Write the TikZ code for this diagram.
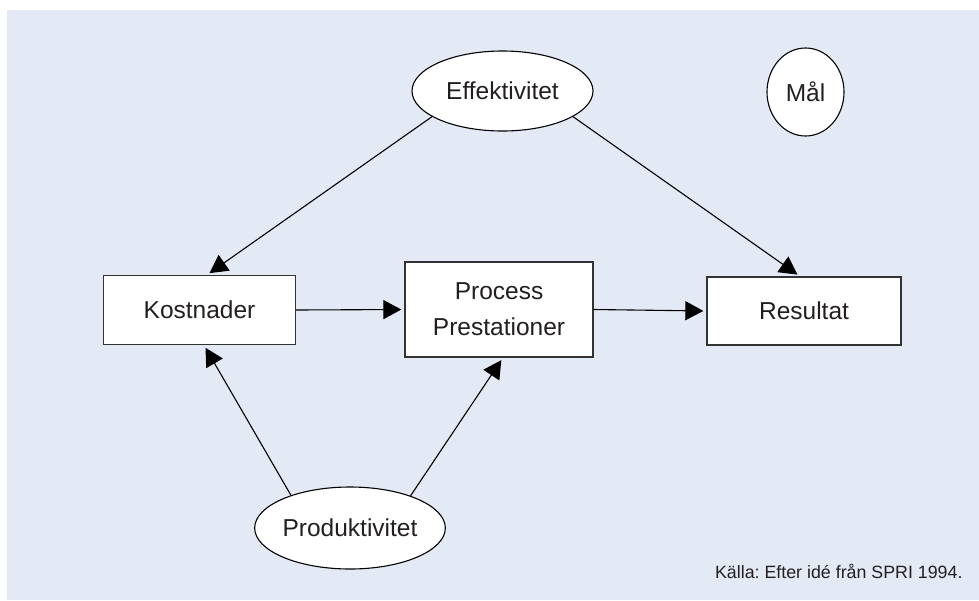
\documentclass[tikz,border=0pt]{standalone}
\usepackage{fontspec}
\setmainfont{Liberation Sans}
\usetikzlibrary{shapes.geometric,arrows.meta}
\definecolor{bgblue}{RGB}{227,233,245}
\definecolor{txt}{RGB}{35,31,32}
\frenchspacing
\begin{document}
\begin{tikzpicture}[x=1pt,y=-1pt,
  lbl/.style={font=\fontsize{24.5}{36}\selectfont, text=txt, align=center},
  boxnode/.style={lbl, draw=black!80, line width=1.3pt, fill=white, inner sep=0pt},
  ellnode/.style={lbl, ellipse, draw=black, line width=1.1pt, fill=white, inner sep=0pt},
  conn/.style={line width=1.1pt, shorten >=3pt, -{Triangle[length=18pt,width=19pt]}}]
\useasboundingbox (0,0) rectangle (979,600);
\fill[bgblue] (7,10) rectangle (979,600);
\node[ellnode, minimum width=181pt, minimum height=80pt] (eff) at (502.5,91) {Effektivitet};
\node[ellnode, minimum width=77pt, minimum height=88pt] (mal) at (805.5,92) {Mål};
\node[boxnode, minimum width=192pt, minimum height=69pt] (kos) at (199.5,310) {Kostnader};
\node[boxnode, minimum width=188pt, minimum height=95pt] (pro) at (499,309.5) {Process\\Prestationer};
\node[boxnode, minimum width=194pt, minimum height=68pt] (res) at (804,311) {Resultat};
\node[ellnode, minimum width=182pt, minimum height=82pt] (prd) at (350,528) {Produktivitet};
\node[anchor=base east, font=\fontsize{17.8}{21}\selectfont, text=txt] (src) at (966,578) {Källa: Efter idé från SPRI 1994.};
\draw[conn] (eff.200) -- (kos.north -| 207,0);
\draw[conn] (eff.-20) -- (res.north -| 800,0);
\draw[conn] (kos.east) -- (pro.west);
\draw[conn] (pro.east) -- (res.west);
\draw[conn] (prd.151) -- (kos.south -| 204,0);
\draw[conn] (prd.28) -- (pro.south -| 503,0);
\end{tikzpicture}
\end{document}
